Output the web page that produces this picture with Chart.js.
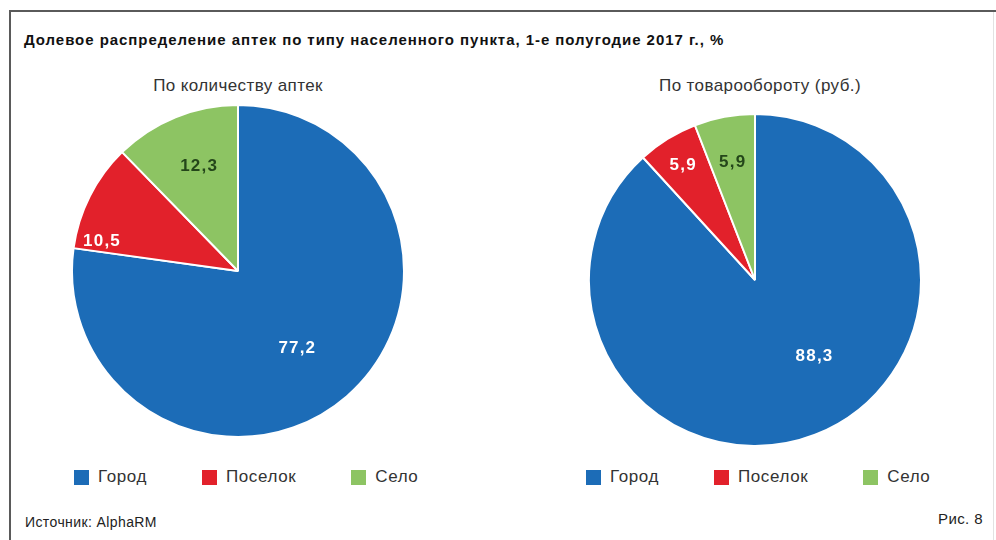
<!DOCTYPE html>
<html lang="ru">
<head>
<meta charset="utf-8">
<script src="https://cdn.jsdelivr.net/npm/chart.js@4/dist/chart.umd.min.js"></script>
<style>
  html, body { margin: 0; padding: 0; background: #fff; }
  body { width: 996px; height: 540px; position: relative; overflow: hidden;
         font-family: "Liberation Sans", Arial, sans-serif; color: #222; }
  .frame-top { position: absolute; left: 9px; top: 10px; width: 987px; height: 2px; background: #5a5a5a; }
  .frame-left { position: absolute; left: 9px; top: 10px; width: 2px; height: 530px; background: #5a5a5a; }
  .frame-right { position: absolute; left: 993px; top: 12px; width: 1px; height: 528px; background: #e2e2e2; }
  .title { position: absolute; left: 24px; top: 31px; font-weight: bold; font-size: 15px; letter-spacing: 0.95px; color: #111; white-space: nowrap; }
  .sub { position: absolute; top: 76px; font-size: 17px; letter-spacing: 0.4px; color: #333; white-space: nowrap; transform: translateX(-50%); }
  .pie { position: absolute; width: 340px; height: 340px; }
  .legend { position: absolute; display: flex; align-items: center; gap: 55px; font-size: 17px; letter-spacing: 0.6px; color: #333; }
  .legend .item { display: flex; align-items: center; }
  .legend .sw { width: 15px; height: 15px; margin-right: 9px; }
  .note { position: absolute; font-size: 14px; letter-spacing: 0.4px; color: #222; white-space: nowrap; }
</style>
</head>
<body>
<div class="frame-top"></div>
<div class="frame-left"></div>
<div class="frame-right"></div>
<div class="title" id="title"></div>
<div class="sub" id="sub0" style="left:238px"></div>
<div class="sub" id="sub1" style="left:760px"></div>
<div class="pie" style="left:68px; top:101px"><canvas id="pie0"></canvas></div>
<div class="pie" style="left:585px; top:110px"><canvas id="pie1"></canvas></div>
<div class="legend" id="legend0" style="left:74px; top:467px"></div>
<div class="legend" id="legend1" style="left:586px; top:467px"></div>
<div class="note" id="source" style="left:25px; top:514px"></div>
<div class="note" id="fig" style="right:13px; top:510px; font-size:15px"></div>

<script>
// Settlement types and their shares, %
const categories = ['Город', 'Поселок', 'Село'];
const shareByCount = [77.2, 10.5, 12.3];
const shareByTurnover = [88.3, 5.9, 5.9];
const pieTitles = ['По количеству аптек', 'По товарообороту (руб.)'];
const chartTitle = 'Долевое распределение аптек по типу населенного пункта, 1-е полугодие 2017 г., %';
const sourceText = 'Источник: AlphaRM';
const figureText = 'Рис. 8';

const sliceColors = ['#1c6cb7', '#e2212b', '#8dc463'];
const labelColors = ['#ffffff', '#ffffff', '#24461a'];

document.getElementById('title').textContent = chartTitle;
document.getElementById('sub0').textContent = pieTitles[0];
document.getElementById('sub1').textContent = pieTitles[1];
document.getElementById('source').textContent = sourceText;
document.getElementById('fig').textContent = figureText;

function buildLegend(id) {
  const box = document.getElementById(id);
  categories.forEach((name, i) => {
    const item = document.createElement('div');
    item.className = 'item';
    const sw = document.createElement('span');
    sw.className = 'sw';
    sw.style.background = sliceColors[i];
    const txt = document.createElement('span');
    txt.textContent = name;
    item.appendChild(sw);
    item.appendChild(txt);
    box.appendChild(item);
  });
}
buildLegend('legend0');
buildLegend('legend1');

// Writes each slice value (decimal comma) inside its slice
const sliceLabels = {
  id: 'sliceLabels',
  afterDatasetsDraw(chart, args, opts) {
    const ctx = chart.ctx;
    const meta = chart.getDatasetMeta(0);
    const values = chart.data.datasets[0].data;
    ctx.save();
    ctx.font = 'bold 17px "Liberation Sans", Arial, sans-serif';
    ctx.letterSpacing = '1.2px';
    ctx.textAlign = 'center';
    ctx.textBaseline = 'middle';
    meta.data.forEach((arc, i) => {
      const p = arc.getProps(['x', 'y', 'startAngle', 'endAngle', 'outerRadius'], true);
      const a = (p.startAngle + p.endAngle) / 2 + (opts.turn[i] || 0) * Math.PI / 180;
      const r = p.outerRadius * opts.frac[i];
      ctx.fillStyle = labelColors[i];
      ctx.fillText(values[i].toFixed(1).replace('.', ','), p.x + Math.cos(a) * r, p.y + Math.sin(a) * r + 1);
    });
    ctx.restore();
  }
};

function makePie(id, values, place) {
  return new Chart(document.getElementById(id), {
    type: 'pie',
    data: {
      labels: categories,
      datasets: [{
        data: values,
        backgroundColor: sliceColors,
        borderColor: '#ffffff',
        borderWidth: 2
      }]
    },
    options: {
      responsive: false,
      animation: false,
      devicePixelRatio: 1,
      layout: { padding: 3 },
      plugins: {
        legend: { display: false },
        tooltip: { enabled: false },
        sliceLabels: place
      }
    },
    plugins: [sliceLabels]
  });
}

document.querySelectorAll('canvas').forEach(c => { c.width = 340; c.height = 340; });
makePie('pie0', shareByCount, { frac: [0.58, 0.84, 0.68], turn: [3, -14, 2] });
makePie('pie1', shareByTurnover, { frac: [0.58, 0.82, 0.73], turn: [-17, 0, 0] });
</script>
</body>
</html>
